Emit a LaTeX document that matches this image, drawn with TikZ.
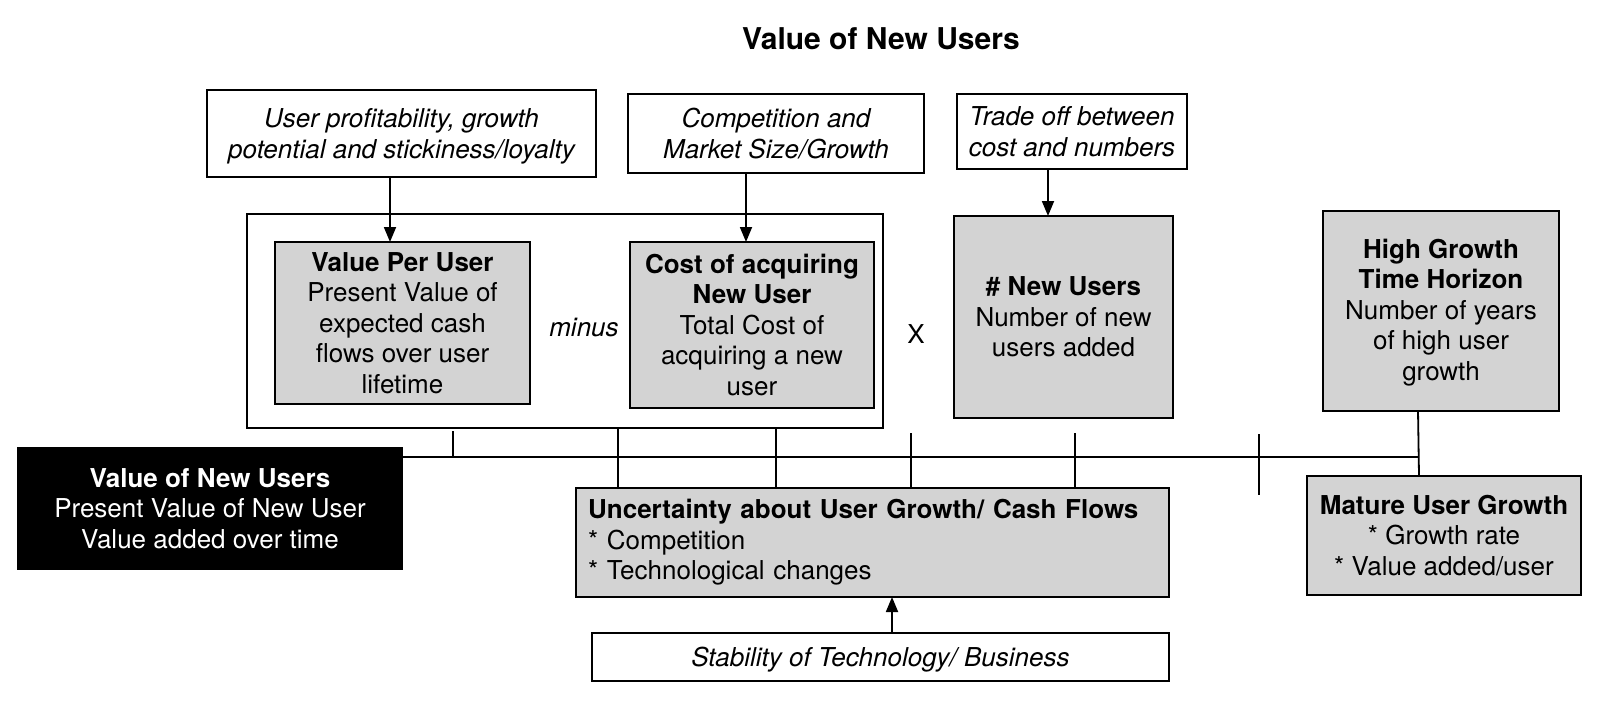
\documentclass[tikz,border=0pt]{standalone}
\usepackage{fontspec}
\setmainfont{TeX Gyre Heros}
\usetikzlibrary{arrows.meta}
\definecolor{boxgray}{RGB}{211,211,211}
\begin{document}
\begin{tikzpicture}[x=1pt,y=-1pt,
  every node/.style={font=\fontsize{26}{30.5}\selectfont, inner sep=0pt, outer sep=0pt},
  line/.style={line width=1.8pt},
  gbox/.style={draw, line width=1.8pt, fill=boxgray, align=center},
  wbox/.style={draw, line width=1.8pt, fill=white, align=center, text depth=0pt, font=\fontsize{26}{30.5}\selectfont\itshape},
  arr/.style={line width=1.8pt, -{Triangle[length=15pt,width=12pt]}},
]
\useasboundingbox (0,0) rectangle (1600,701);
\fill[white] (0,0) rectangle (1600,701);

% title
\node[font=\fontsize{30}{36}\selectfont\bfseries, anchor=base] (title) at (881,49) {Value of New Users};

% top white boxes
\node[wbox, minimum width=389pt, minimum height=87pt] (top1) at (401.5,133.5) {User profitability, growth\\potential and stickiness/loyalty};
\node[wbox, minimum width=296pt, minimum height=79pt] (top2) at (776,133.5) {Competition and\\Market Size/Growth};
\node[wbox, minimum width=230pt, minimum height=75pt] (top3) at (1072,131.5) {Trade off between\\cost and numbers};

% outer frame
\node[draw, line width=1.8pt, minimum width=636pt, minimum height=214pt] (outer) at (565,321) {};

% gray boxes
\node[gbox, minimum width=255pt, minimum height=162pt] (vpu) at (402.5,323) {\textbf{Value Per User}\\Present Value of\\expected cash\\flows over user\\lifetime};
\node[gbox, minimum width=244pt, minimum height=166pt] (cost) at (752,325) {\textbf{Cost of acquiring}\\\textbf{New User}\\Total Cost of\\acquiring a new\\user};
\node[gbox, minimum width=219pt, minimum height=202pt] (newusers) at (1063.5,317) {\textbf{\# New Users}\\Number of new\\users added};
\node[gbox, minimum width=236pt, minimum height=200pt, text depth=3pt] (hg) at (1441,311) {\textbf{High Growth}\\\textbf{Time Horizon}\\Number of years\\of high user\\growth};
\node[gbox, minimum width=274pt, minimum height=119pt] (mature) at (1444,535.5) {\textbf{Mature User Growth}\\{}* Growth rate\\{}* Value added/user};
\node[draw, line width=1.8pt, fill=black, text=white, align=center, minimum width=384pt, minimum height=121pt] (black) at (210,508.5) {\textbf{Value of New Users}\\Present Value of New User\\Value added over time};
\node[gbox, align=left, text width=569pt, inner xsep=12pt, minimum height=109pt] (unc) at (872.5,542.5) {\textbf{Uncertainty about User Growth/ Cash Flows}\\{}* Competition\\{}* Technological changes};
\node[wbox, minimum width=577pt, minimum height=48pt] (stab) at (880.5,657) {Stability of Technology/ Business};

% operators
\node[anchor=base, font=\fontsize{26}{30.5}\selectfont\itshape] (minus) at (584,336) {minus};
\node[anchor=base] (times) at (916,343) {X};

% arrows
\coordinate (a1) at (390,0);
\coordinate (a2) at (746,0);
\coordinate (a3) at (1048,0);
\coordinate (a4) at (892,0);
\draw[arr] (top1.south -| a1) -- (vpu.north -| a1);
\draw[arr] (top2.south -| a2) -- (cost.north -| a2);
\draw[arr] (top3.south -| a3) -- (newusers.north -| a3);
\draw[arr] (stab.north -| a4) -- (unc.south -| a4);

% bus line
\coordinate (busend) at (1418,457);
\draw[line] ([yshift=-9pt]black.north east) -- (busend);
\draw[line] ([xshift=-23pt]hg.south) -- ([xshift=-25pt]mature.north);

% ticks
\coordinate (k1top) at (453,431);
\coordinate (k1bot) at (453,457);
\coordinate (k2) at (618,457);
\coordinate (k3) at (776,457);
\coordinate (k4top) at (911,433);
\coordinate (k5top) at (1075,433);
\coordinate (k6top) at (1259,434);
\coordinate (k6bot) at (1259,495);
\draw[line] (k1top) -- (k1bot);
\draw[line] (outer.south -| k2) -- (unc.north -| k2);
\draw[line] (outer.south -| k3) -- (unc.north -| k3);
\draw[line] (k4top) -- (unc.north -| k4top);
\draw[line] (k5top) -- (unc.north -| k5top);
\draw[line] (k6top) -- (k6bot);
\end{tikzpicture}
\end{document}
